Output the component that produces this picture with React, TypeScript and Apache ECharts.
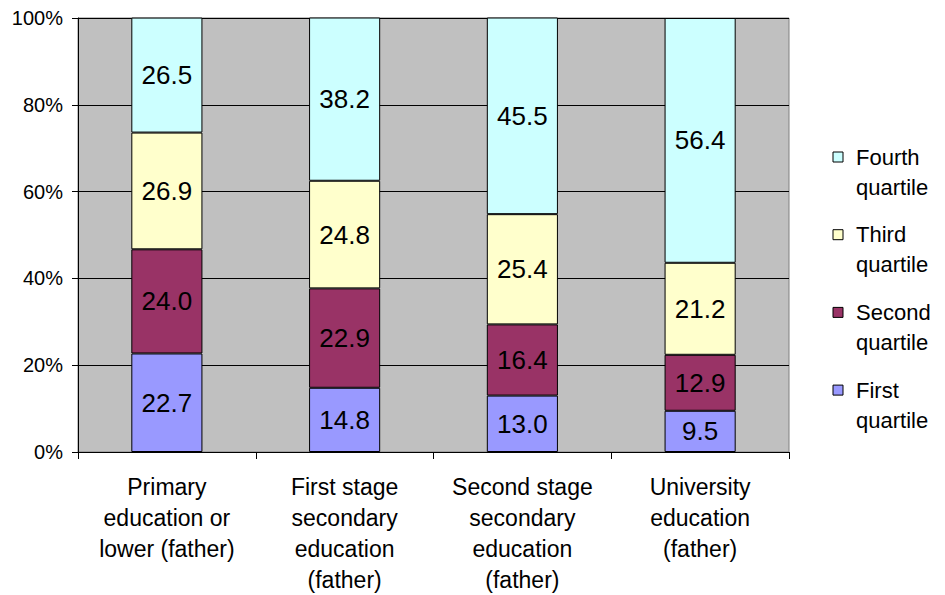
import React, { useEffect, useRef } from "react";
import * as echarts from "echarts";

const categories = [
  "Primary\neducation or\nlower (father)",
  "First stage\nsecondary\neducation\n(father)",
  "Second stage\nsecondary\neducation\n(father)",
  "University\neducation\n(father)",
];
const seriesNames = ["First quartile", "Second quartile", "Third quartile", "Fourth quartile"];
const firstQuartile = [22.7, 14.8, 13.0, 9.5];
const secondQuartile = [24.0, 22.9, 16.4, 12.9];
const thirdQuartile = [26.9, 24.8, 25.4, 21.2];
const fourthQuartile = [26.5, 38.2, 45.5, 56.4];
const colors = ["#9999ff", "#993366", "#ffffcc", "#ccffff"];
const yTicks = [0, 20, 40, 60, 80, 100];

const FONT = "'Liberation Sans', Arial, sans-serif";

export default function App() {
  const ref = useRef<HTMLDivElement>(null);
  useEffect(() => {
    if (!ref.current) return;
    const chart = echarts.init(ref.current, undefined, { renderer: "svg" });
    const values = [firstQuartile, secondQuartile, thirdQuartile, fourthQuartile];
    const legendOrder = [3, 2, 1, 0];
    const legendGraphics: any[] = [];
    legendOrder.forEach((si, i) => {
      const top = 142 + i * 77.7;
      const parts = seriesNames[si].split(" ");
      legendGraphics.push({
        type: "rect",
        shape: { x: 833, y: top + 10, width: 10, height: 10 },
        style: { fill: colors[si], stroke: "#000", lineWidth: 1 },
      });
      legendGraphics.push({
        type: "text",
        x: 856,
        y: top,
        style: {
          text: parts[0] + "\n" + parts[1],
          fontSize: 22,
          fontFamily: FONT,
          lineHeight: 30,
          fill: "#000",
          verticalAlign: "top",
          align: "left",
        },
      });
    });
    chart.setOption({
      animation: false,
      grid: {
        left: 78,
        right: 156,
        top: 18,
        bottom: 142,
        show: true,
        backgroundColor: "#c0c0c0",
        borderColor: "#808080",
        borderWidth: 1,
      },
      xAxis: {
        type: "category",
        data: categories,
        axisLine: { lineStyle: { color: "#000", width: 1 } },
        axisTick: { show: true, length: 7, lineStyle: { color: "#000" } },
        axisLabel: {
          color: "#000",
          fontSize: 23,
          fontFamily: FONT,
          lineHeight: 31,
          margin: 19,
          interval: 0,
        },
      },
      yAxis: {
        type: "value",
        min: yTicks[0],
        max: yTicks[yTicks.length - 1],
        interval: 20,
        axisLine: { show: true, lineStyle: { color: "#000", width: 1 } },
        axisTick: { show: true, length: 6, lineStyle: { color: "#000" } },
        axisLabel: {
          color: "#000",
          fontSize: 20,
          fontFamily: FONT,
          margin: 15,
          formatter: "{value}%",
        },
        splitLine: { show: true, lineStyle: { color: "#000", width: 1 } },
      },
      series: values.map((v, i) => ({
        name: seriesNames[i],
        type: "bar",
        stack: "total",
        data: v,
        barWidth: "40%",
        itemStyle: { color: colors[i], borderColor: "#000", borderWidth: 1 },
        label: {
          show: true,
          position: "inside",
          color: "#000",
          fontSize: 26,
          fontFamily: FONT,
          formatter: (p: any) => Number(p.value).toFixed(1),
        },
      })),
      graphic: legendGraphics,
    });
    return () => chart.dispose();
  }, []);
  return <div ref={ref} style={{ width: 945, height: 595, position: "absolute", left: 0, top: 0 }} />;
}
